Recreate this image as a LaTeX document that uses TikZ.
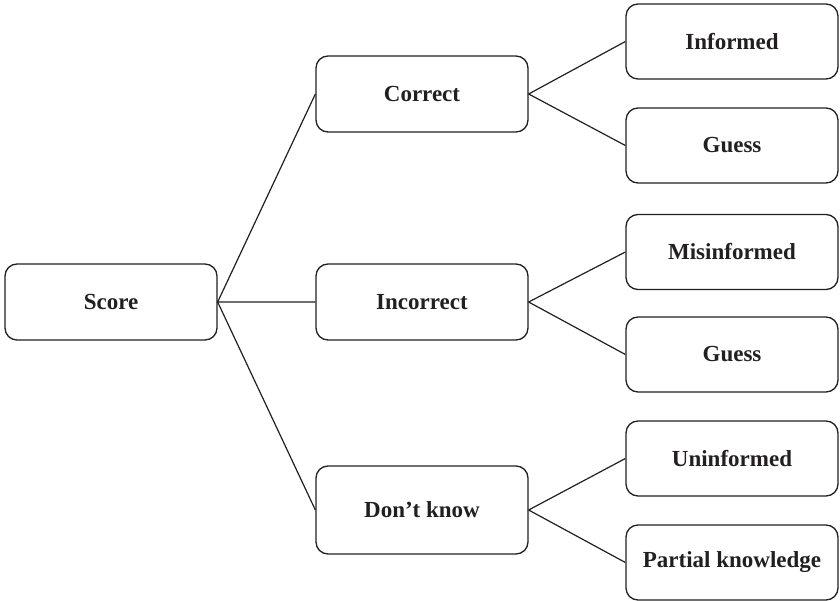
\documentclass[tikz,border=0pt]{standalone}
\usepackage{fontspec}
\setmainfont{Liberation Serif}
\definecolor{ink}{HTML}{231F20}
\begin{document}
\begin{tikzpicture}[x=1pt,y=-1pt,
  box/.style={draw=ink, line width=1.3pt, rounded corners=12pt,
    minimum width=212pt, minimum height=76pt, inner sep=0pt,
    font=\fontsize{23}{27}\selectfont\bfseries, text=ink},
  link/.style={draw=ink, line width=1.2pt}]
\useasboundingbox (0,0) rectangle (840,601);

% root
\node[box] (score) at (111,302) {Score};

% first level
\node[box] (correct)   at (422,94)  {Correct};
\node[box] (incorrect) at (422,302) {Incorrect};
\node[box, minimum height=88pt] (dontknow) at (422,510) {Don’t know};

% second level
\node[box, minimum height=75pt] (informed)    at (732,41.5)  {Informed};
\node[box, minimum height=75pt] (guessA)      at (732,145.5) {Guess};
\node[box, minimum height=75pt] (misinformed) at (732,252)   {Misinformed};
\node[box, minimum height=75pt] (guessB)      at (732,354.5) {Guess};
\node[box, minimum height=75pt] (uninformed)  at (732,458.5) {Uninformed};
\node[box, minimum height=75pt] (partial)     at (732,562.5) {Partial knowledge};

% connectors
\draw[link] (correct.west) -- (score.east) -- (incorrect.west);
\draw[link] (score.east) -- (dontknow.west);
\draw[link] (informed.west) -- (correct.east) -- (guessA.west);
\draw[link] (misinformed.west) -- (incorrect.east) -- (guessB.west);
\draw[link] (uninformed.west) -- (dontknow.east) -- (partial.west);
\end{tikzpicture}
\end{document}
